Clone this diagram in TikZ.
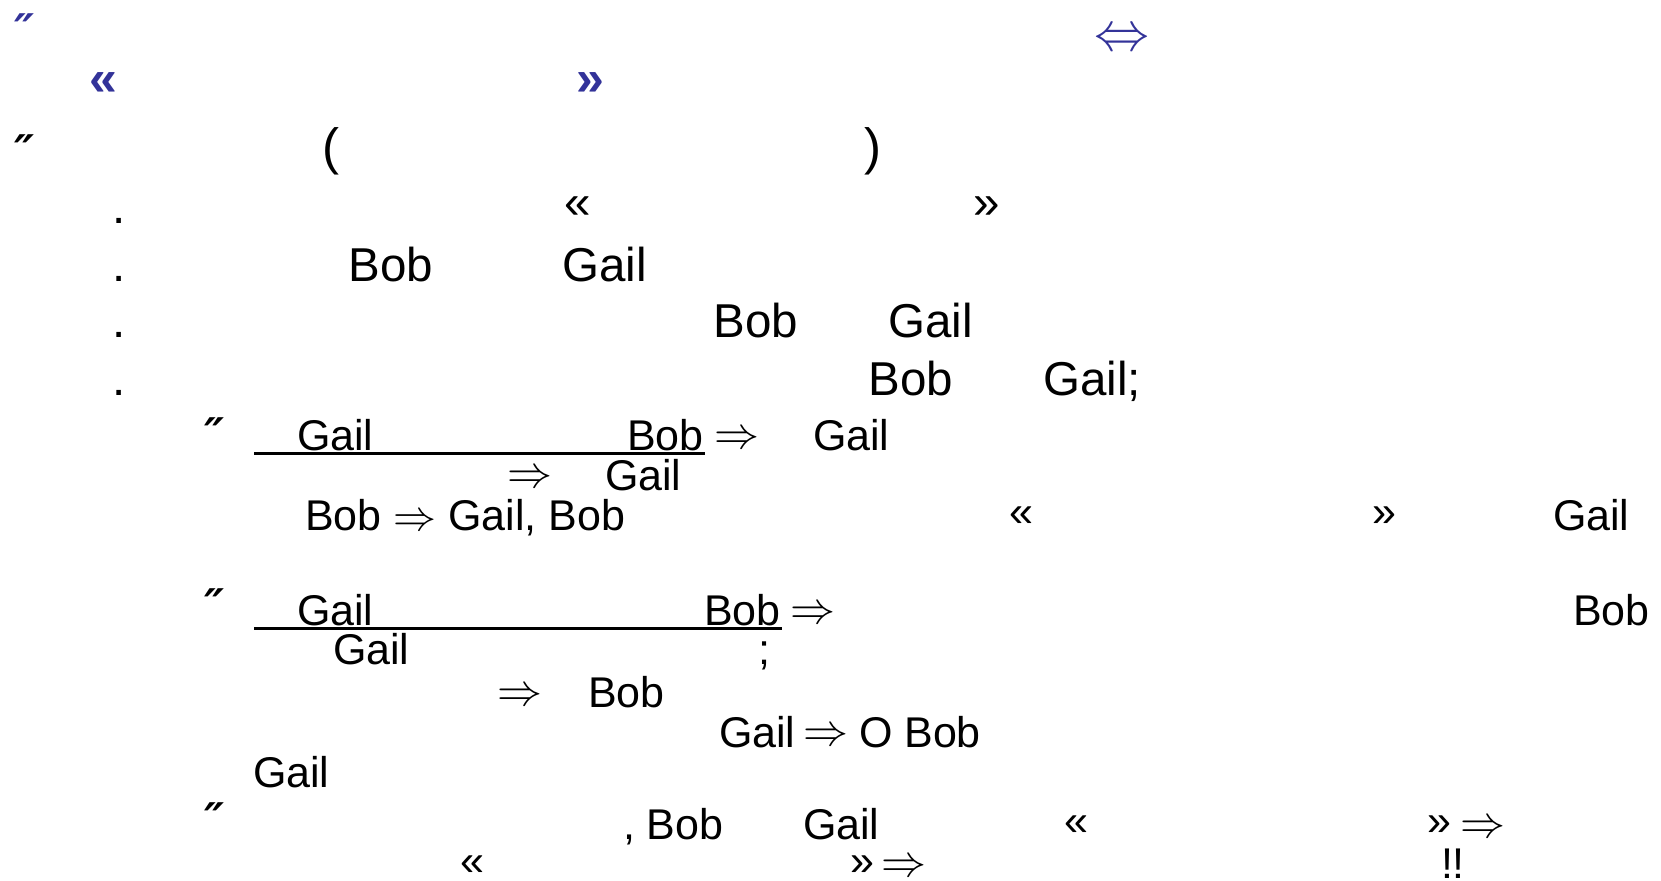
\RequirePackage{fix-cm}
\documentclass[tikz,border=0pt]{standalone}
\usepackage{fontspec}
\setmainfont{Liberation Sans}
\newfontfamily\djv{DejaVu Sans}
\definecolor{slideblue}{RGB}{51,51,153}
\begin{document}
\begin{tikzpicture}[x=1pt,y=-1pt,
  every node/.style={inner sep=0pt,outer sep=0pt},
  bigtxt/.style={font=\fontsize{47.5}{56}\selectfont,anchor=base west},
  smalltxt/.style={font=\fontsize{43}{50}\selectfont,anchor=base west},
  bigglyph/.style={font=\fontsize{47.5}{56}\selectfont,anchor=center},
  smallglyph/.style={font=\fontsize{43}{50}\selectfont,anchor=center},
  arrowglyph/.style={font=\fontsize{45}{50}\selectfont,anchor=center},
  primemark/.style={font=\djv\bfseries\itshape\fontsize{45}{50}\selectfont,anchor=center},
  titleglyph/.style={font=\bfseries\fontsize{50}{56}\selectfont,anchor=center,text=slideblue},
  rulebar/.style={line width=3pt}]
\useasboundingbox (0,0) rectangle (1661,880);
% title
\node[primemark,text=slideblue] (t0) at (25,30) {″};
\node[font=\fontsize{55}{60}\selectfont,anchor=center,text=slideblue] (tiff) at (1122,40) {$\Leftrightarrow$};
\node[titleglyph] (tlq) at (103,84) {«};
\node[titleglyph] (trq) at (590,84) {»};
% line 3
\node[primemark] (p3) at (25,151) {″};
\node[font=\fontsize{51}{56}\selectfont,anchor=center] (lp) at (331,151) {(};
\node[font=\fontsize{51}{56}\selectfont,anchor=center] (rp) at (873,151) {)};
% line 4
\node[bigtxt] (d4) at (112,223) {.};
\node[bigglyph] (l4a) at (578,208) {«};
\node[bigglyph] (l4b) at (987,208) {»};
% line 5
\node[bigtxt] (d5) at (112,281) {.};
\node[bigtxt] (l5a) at (348.5,281) {Bob};
\node[bigtxt] (l5b) at (562.5,281) {Gail};
% line 6
\node[bigtxt] (d6) at (112,337) {.};
\node[bigtxt] (l6a) at (713.5,337) {Bob};
\node[bigtxt] (l6b) at (888.5,337) {Gail};
% line 7
\node[bigtxt] (d7) at (112,395) {.};
\node[bigtxt] (l7a) at (868.5,395) {Bob};
\node[bigtxt] (l7b) at (1043.5,395) {Gail;};
% line 8
\node[primemark] (p8) at (215,434) {″};
\node[smalltxt] (l8a) at (297,450) {Gail};
\node[smalltxt] (l8b) at (627,450) {Bob};
\node[arrowglyph] (l8c) at (737,440) {$\Rightarrow$};
\node[smalltxt] (l8d) at (813,450) {Gail};
\coordinate (u1a) at (254,453.5);
\coordinate (u1b) at (705,453.5);
\draw[rulebar] (u1a) -- (u1b);
% line 9
\node[arrowglyph] (l9a) at (530,479) {$\Rightarrow$};
\node[smalltxt] (l9b) at (605,490) {Gail};
% line 10
\node[smalltxt] (l10a) at (305,530) {Bob $\Rightarrow$ Gail, Bob};
\node[smallglyph] (l10b) at (1021,517) {«};
\node[smallglyph] (l10c) at (1384,517) {»};
\node[smalltxt] (l10d) at (1553,530) {Gail};
% line 11
\node[primemark] (p11) at (215,605) {″};
\node[smalltxt] (l11a) at (297,625) {Gail};
\node[smalltxt] (l11b) at (704,625) {Bob};
\node[arrowglyph] (l11c) at (813,615) {$\Rightarrow$};
\node[smalltxt] (l11d) at (1573,625) {Bob};
\coordinate (u2a) at (254,628.5);
\coordinate (u2b) at (782,628.5);
\draw[rulebar] (u2a) -- (u2b);
% line 12
\node[smalltxt] (l12a) at (333,664) {Gail};
\node[smalltxt] (l12b) at (758,664) {;};
% line 13
\node[arrowglyph] (l13a) at (520,697) {$\Rightarrow$};
\node[smalltxt] (l13b) at (588,707) {Bob};
% line 14
\node[smalltxt] (l14a) at (719,747) {Gail};
\node[arrowglyph] (l14b) at (826,737) {$\Rightarrow$};
\node[smalltxt] (l14c) at (859,747) {O Bob};
% line 15
\node[smalltxt] (l15a) at (253,787) {Gail};
% line 16
\node[primemark] (p16) at (215,819) {″};
\node[smalltxt] (l16a) at (623,839) {, Bob};
\node[smalltxt] (l16b) at (803,839) {Gail};
\node[smallglyph] (l16c) at (1076,826) {«};
\node[smallglyph] (l16d) at (1439,826) {»};
\node[arrowglyph] (l16e) at (1483,829) {$\Rightarrow$};
% line 17
\node[smallglyph] (l17a) at (472,866) {«};
\node[smallglyph] (l17b) at (862,866) {»};
\node[arrowglyph] (l17c) at (904,868) {$\Rightarrow$};
\node[smalltxt] (l17d) at (1441,878) {!!};
\end{tikzpicture}
\end{document}
